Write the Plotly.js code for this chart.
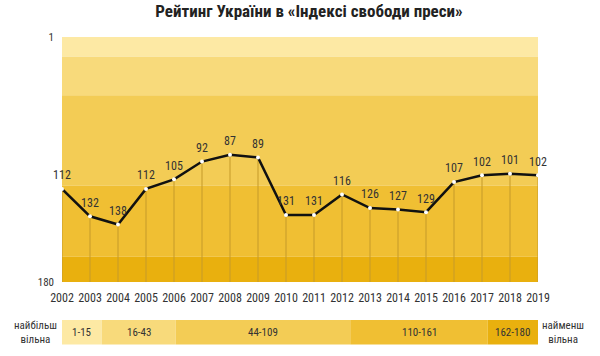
<!DOCTYPE html>
<html>
<head>
<meta charset="utf-8">
<script src="https://cdn.plot.ly/plotly-3.0.1.min.js"></script>
<style>html,body{margin:0;padding:0;background:#fff;}#chart{width:600px;height:356px;}</style>
</head>
<body>
<div id="chart"></div>
<script>
const years = [2002,2003,2004,2005,2006,2007,2008,2009,2010,2011,2012,2013,2014,2015,2016,2017,2018,2019];
const ranks = [112,132,138,112,105,92,87,89,131,131,116,126,127,129,107,102,101,102];
const bandFrom = [1,16,44,110,162];
const bandTo = [15,43,109,161,180];
const bandLabels = ['1-15','16-43','44-109','110-161','162-180'];
const bandColors = ['#fde9a4','#f8da7b','#f3cc55','#f0bf33','#e9b00e'];
const yTicks = [1,180];
const FONT = 'Roboto Condensed, Liberation Sans Narrow, DejaVu Sans Condensed, sans-serif';

const shapes = [];
const annotations = [];
bandFrom.forEach((f,i)=>{
  const lo = i===0 ? f : f-0.5;
  const hi = i===bandFrom.length-1 ? bandTo[i] : bandTo[i]+0.5;
  shapes.push({type:'rect', xref:'paper', yref:'y', x0:0, x1:1, y0:lo, y1:hi,
    fillcolor:bandColors[i], line:{width:0}, layer:'below'});
  shapes.push({type:'rect', xref:'x2', yref:'paper', x0:f-0.5, x1:bandTo[i]+0.5, y0:-0.255, y1:-0.155,
    fillcolor:bandColors[i], line:{width:0}});
  annotations.push({xref:'x2', yref:'paper', x:(f+bandTo[i])/2, y:-0.205, xanchor:'center', yanchor:'middle',
    text:bandLabels[i], showarrow:false, font:{family:FONT, size:11, color:'#333'}});
});
annotations.push({xref:'paper', yref:'paper', x:-0.055, y:-0.205, xanchor:'center', yanchor:'middle',
  text:'найбільш<br>вільна', showarrow:false, font:{family:FONT, size:11, color:'#333'}, align:'center'});
annotations.push({xref:'paper', yref:'paper', x:1.053, y:-0.205, xanchor:'center', yanchor:'middle',
  text:'найменш<br>вільна', showarrow:false, font:{family:FONT, size:11, color:'#333'}, align:'center'});

const dropX = [], dropY = [];
years.forEach((yr,i)=>{ dropX.push(yr,yr,null); dropY.push(ranks[i],180,null); });

const traces = [
  {x:dropX, y:dropY, mode:'lines', line:{color:'#c59a2a', width:1}, hoverinfo:'skip', showlegend:false},
  {x:years, y:ranks, mode:'lines+markers',
   line:{color:'#111', width:2.5}, marker:{color:'#fff', size:4}, cliponaxis:false, showlegend:false},
  {x:years, y:ranks, mode:'markers+text', text:ranks.map(String), textposition:'top center',
   marker:{size:9, opacity:0},
   textfont:{family:FONT, size:12, color:'#333'}, cliponaxis:false, hoverinfo:'skip', showlegend:false},
  {x:[1,180], y:[180,180], xaxis:'x2', mode:'markers', marker:{opacity:0}, hoverinfo:'skip', showlegend:false}
];

const layout = {
  width:600, height:356,
  margin:{l:62, r:62, t:37, b:74},
  paper_bgcolor:'#fff', plot_bgcolor:'#fff',
  title:{text:'<b>Рейтинг України в «Індексі свободи преси»</b>', x:0.515, xanchor:'center', y:0.985, yanchor:'top',
    font:{family:FONT, size:17, color:'#222'}},
  xaxis:{range:[2002,2019], tickvals:years, ticktext:years.map(String), showgrid:false, zeroline:false,
    showline:false, ticks:'', ticklabelstandoff:7, tickfont:{family:FONT, size:12, color:'#333'}, fixedrange:true},
  xaxis2:{range:[0.5,180.5], overlaying:'x', anchor:'y', visible:false, fixedrange:true},
  yaxis:{range:[180,1], tickvals:yTicks, ticktext:yTicks.map(String), showgrid:false, zeroline:false,
    showline:false, ticks:'', ticklabelstandoff:7, tickfont:{family:FONT, size:11, color:'#333'}, fixedrange:true},
  shapes:shapes, annotations:annotations, showlegend:false
};
Plotly.newPlot('chart', traces, layout, {staticPlot:true, displayModeBar:false});
</script>
</body>
</html>
